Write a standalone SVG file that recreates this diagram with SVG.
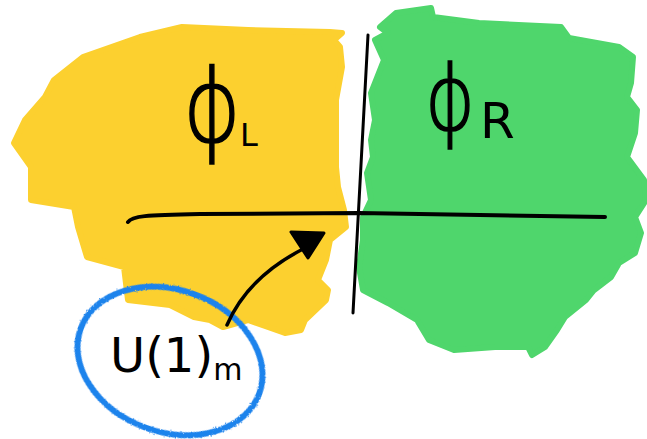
<svg xmlns="http://www.w3.org/2000/svg" width="647" height="439" viewBox="0 0 647 439">
<style>
.txt{font-family:"DejaVu Sans","Liberation Sans",sans-serif;fill:#000}
.phi{font-weight:200;stroke:#000;stroke-width:1.6}
.ln{fill:none;stroke:#000;stroke-linecap:round;stroke-linejoin:round}
</style>
<defs>
<filter id="crayon" x="-10%" y="-10%" width="120%" height="120%">
<feTurbulence type="fractalNoise" baseFrequency="0.9" numOctaves="2" seed="3" result="n"/>
<feDisplacementMap in="SourceGraphic" in2="n" scale="2.5"/>
</filter>
</defs>
<rect width="647" height="439" fill="#fff"/>
<g id="phiL">
<polygon fill="#FCD02F" stroke="#FCD02F" stroke-width="6" stroke-linejoin="round" points="54,80 83,57 140,37 182,27 248,30 330,32 342,33 334,40 340,47 342,67 336,100 336,167 338,187 344,210 346,227 330,240 326,260 318,280 328,290 326,300 305,320 301,330 285,333 268,327 248,320 223,327 210,320 194,317 170,305 128,300 124,267 87,257 78,227 74,207 31,200 31,167 14,143 25,120 45,97"/>
<text class="txt phi" x="212" y="142" font-size="104" text-anchor="middle" transform="translate(212 0) scale(0.85 1) translate(-212 0)">ϕ</text>
<text class="txt" x="240" y="146" font-size="32">L</text>
</g>
<g id="phiR">
<polygon fill="#4FD66C" stroke="#4FD66C" stroke-width="6" stroke-linejoin="round" points="388,33 380,27 396,13 431,8 433,17 479,23 561,27 569,38 619,47 633,57 631,83 627,97 637,110 635,133 627,157 644,180 646,200 635,217 641,233 635,253 619,263 611,277 594,290 586,300 565,317 557,330 545,347 532,355 528,347 495,347 454,350 429,340 417,320 388,303 363,290 359,267 363,240 363,217 371,200 367,173 373,157 371,140 375,120 371,93 384,60 375,40"/>
<text class="txt phi" x="450" y="130" font-size="90" text-anchor="middle" transform="translate(450 0) scale(0.85 1) translate(-450 0)">ϕ</text>
<text class="txt" x="480" y="138" font-size="50">R</text>
</g>
<g id="u1m">
<ellipse cx="170" cy="361" rx="95" ry="71" transform="rotate(20 170 361)" fill="none" stroke="#1F83EC" stroke-width="6" filter="url(#crayon)"/>
<text class="txt" x="110" y="372" font-size="48">U(1)<tspan font-size="30" dy="8">m</tspan></text>
</g>
<g id="connectors">
<path class="ln" stroke-width="3" d="M368,35 L353,313"/>
<path class="ln" stroke-width="4" d="M128,222 C132,216 145,215 200,214 L359,213 L605,217"/>
<path class="ln" stroke-width="3.5" d="M227,325 C240,295 265,268 305,248"/>
<polygon points="291,232 324,233 308,258" fill="#000" stroke="#000" stroke-width="3" stroke-linejoin="round"/>
</g>
</svg>
